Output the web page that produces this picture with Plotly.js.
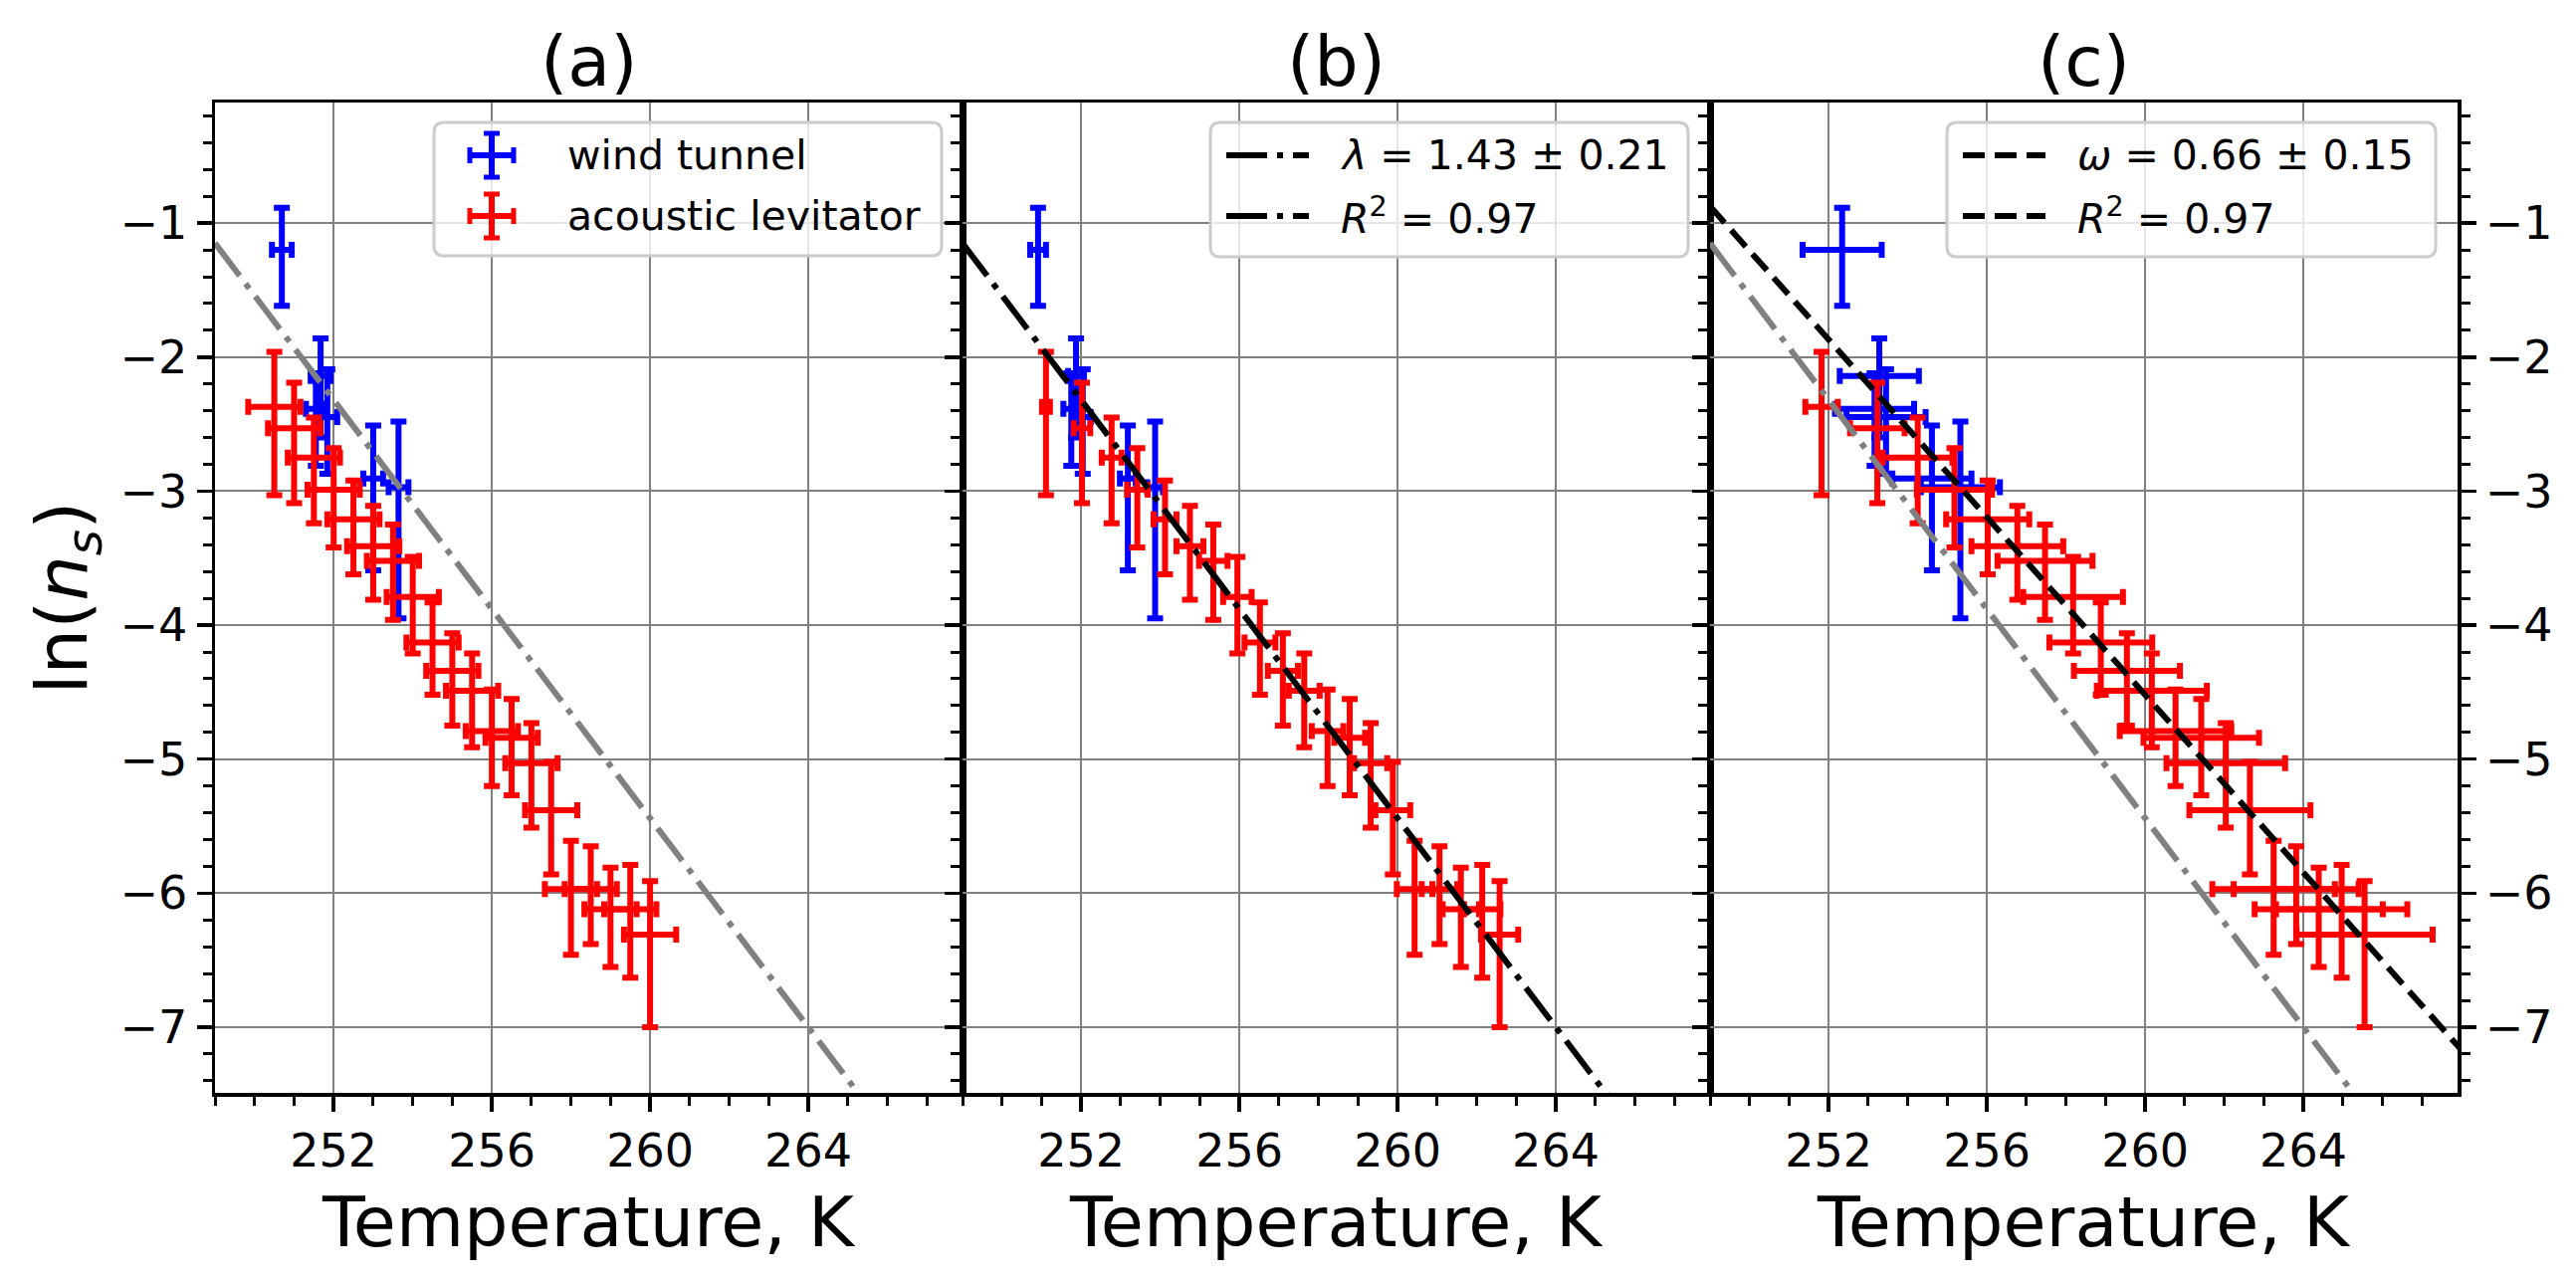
<!DOCTYPE html>
<html>
<head>
<meta charset="utf-8">
<script src="https://cdn.plot.ly/plotly-3.0.1.min.js"></script>
<style>
html, body { margin: 0; padding: 0; background: #fff; }
#chart { width: 2588px; height: 1288px; }
</style>
</head>
<body>
<div id="chart"></div>
<script>
// ---- wind tunnel (blue) ----
var windT_a = [250.69, 251.67, 251.55, 251.84, 253.00, 253.64];
var windT_b = [250.91, 251.87, 251.75, 252.04, 253.18, 253.87];
var windT_c = [252.34, 253.28, 253.16, 253.45, 254.61, 255.33];
var windTerr_a = [0.25, 0.25, 0.25, 0.25, 0.25, 0.25];
var windTerr_b = [0.2, 0.2, 0.2, 0.2, 0.2, 0.2];
var windTerr_c = [1.0, 1.0, 1.0, 1.0, 1.0, 1.0];
var windLn = [-1.20, -2.14, -2.385, -2.447, -2.905, -2.97];
var windLnTop = [-0.886, -1.86, -2.12, -2.09, -2.51, -2.48];
var windLnBottom = [-1.617, -2.60, -2.81, -2.87, -3.59, -3.95];

// ---- acoustic levitator (red) ----
var levT_a = [250.5, 251.0, 251.5, 252.0, 252.5, 253.0, 253.5, 254.0, 254.5, 255.0,
              255.5, 256.0, 256.5, 257.0, 257.5, 258.0, 258.5, 259.0, 259.5, 260.0];
var levT_b = [251.11, 252.02, 252.77, 253.42, 254.12, 254.75, 255.34, 255.95, 256.52, 257.10,
              257.64, 258.23, 258.79, 259.32, 259.88, 260.43, 261.06, 261.60, 262.14, 262.58];
var levT_c = [251.82, 253.23, 254.25, 255.18, 256.02, 256.77, 257.47, 258.18, 258.88, 259.54,
              260.17, 260.77, 261.42, 262.04, 262.65, 263.25, 263.82, 264.39, 264.97, 265.55];
var levTerr_a = [0.66, 0.66, 0.66, 0.66, 0.66, 0.66, 0.66, 0.66, 0.66, 0.66,
                 0.66, 0.66, 0.66, 0.66, 0.66, 0.66, 0.66, 0.66, 0.66, 0.66];
var levTerr_b = [0.10, 0.21, 0.25, 0.26, 0.29, 0.34, 0.36, 0.36, 0.39, 0.38,
                 0.39, 0.40, 0.39, 0.42, 0.44, 0.45, 0.45, 0.46, 0.46, 0.47];
var levTerr_c = [0.41, 0.69, 0.88, 0.95, 1.05, 1.16, 1.20, 1.26, 1.30, 1.34,
                 1.39, 1.41, 1.46, 1.50, 1.53, 1.55, 1.58, 1.62, 1.66, 1.72];
var levLn = [-2.37, -2.53, -2.75, -2.99, -3.21, -3.41, -3.52, -3.79, -4.13, -4.34,
             -4.49, -4.79, -4.84, -5.03, -5.38, -5.97, -5.97, -6.12, -6.12, -6.31];
var levLnTop = [-1.96, -2.19, -2.45, -2.68, -2.92, -3.11, -3.25, -3.49, -3.83, -4.06,
                -4.21, -4.48, -4.55, -4.73, -5.02, -5.61, -5.65, -5.81, -5.79, -5.91];
var levLnBottom = [-3.03, -3.09, -3.24, -3.42, -3.62, -3.81, -3.96, -4.21, -4.52, -4.75,
                   -4.91, -5.20, -5.27, -5.51, -5.86, -6.46, -6.38, -6.55, -6.63, -7.00];

// ---- fitted lines ----
var lambdaLineT = [249.0, 268.0];
var lambdaLineLn = [-1.15, -8.56];
var omegaLineT = [249.0, 268.0];
var omegaLineLn = [-0.875, -7.17];

var panelTitles = ['(a)', '(b)', '(c)'];
var legendA = ['wind tunnel', 'acoustic levitator'];
var legendB = ['<i>λ</i> = 1.43 ± 0.21', '<i>R</i><sup>2</sup> = 0.97'];
var legendC = ['<i>ω</i> = 0.66 ± 0.15', '<i>R</i><sup>2</sup> = 0.97'];

var FONT = 'DejaVu Sans';
var BLUE = '#0000ff', RED = '#ff0000', GRAY = '#808080';
var DASHDOT = '41px,10px,6px,10px';
var DASHED = '22px,10px';

// plot area in pixels
var L = 216, R = 2469, T = 103, B = 1098;
function px(x) { return (x - L) / (R - L); }
function py(y) { return (B - y) / (B - T); }

function errTrace(x, xerr, y, top, bottom, color, xa, ya) {
    return {
        x: x, y: y, type: 'scatter', mode: 'markers',
        xaxis: xa, yaxis: ya, showlegend: false, hoverinfo: 'skip',
        marker: {size: 0.001, color: color},
        error_x: {type: 'data', array: xerr, color: color, thickness: 6, width: 8},
        error_y: {type: 'data', symmetric: false,
                  array: top.map((t, i) => t - y[i]),
                  arrayminus: bottom.map((b, i) => y[i] - b),
                  color: color, thickness: 6, width: 8}
    };
}

function lineTrace(x, y, color, dash, xa, ya) {
    return {x: x, y: y, type: 'scatter', mode: 'lines', xaxis: xa, yaxis: ya,
            showlegend: false, hoverinfo: 'skip',
            line: {color: color, width: 6, dash: dash}};
}

var data = [
    errTrace(windT_a, windTerr_a, windLn, windLnTop, windLnBottom, BLUE, 'x', 'y'),
    errTrace(levT_a, levTerr_a, levLn, levLnTop, levLnBottom, RED, 'x', 'y'),
    lineTrace(lambdaLineT, lambdaLineLn, GRAY, DASHDOT, 'x', 'y'),

    errTrace(windT_b, windTerr_b, windLn, windLnTop, windLnBottom, BLUE, 'x2', 'y2'),
    errTrace(levT_b, levTerr_b, levLn, levLnTop, levLnBottom, RED, 'x2', 'y2'),
    lineTrace(lambdaLineT, lambdaLineLn, 'black', DASHDOT, 'x2', 'y2'),

    errTrace(windT_c, windTerr_c, windLn, windLnTop, windLnBottom, BLUE, 'x3', 'y3'),
    errTrace(levT_c, levTerr_c, levLn, levLnTop, levLnBottom, RED, 'x3', 'y3'),
    lineTrace(lambdaLineT, lambdaLineLn, GRAY, DASHDOT, 'x3', 'y3'),
    lineTrace(omegaLineT, omegaLineLn, 'black', DASHED, 'x3', 'y3')
];

function xAxis(domain, anchor) {
    return {
        domain: domain, anchor: anchor, range: [249.0, 267.9],
        tick0: 0, dtick: 4, ticks: 'outside', ticklen: 15, tickwidth: 3.5, tickcolor: 'black',
        showline: true, linecolor: 'black', linewidth: 3.5, mirror: true,
        showgrid: true, gridcolor: GRAY, gridwidth: 2, zeroline: false,
        tickfont: {family: FONT, size: 46, color: 'black'},
        minor: {dtick: 1, ticks: 'outside', ticklen: 9, tickwidth: 3, tickcolor: 'black', showgrid: false}
    };
}

function yAxis(anchor, side, labels, mirror) {
    return {
        anchor: anchor, side: side, range: [-7.49, -0.10],
        tick0: 0, dtick: 1, ticks: 'outside', ticklen: 15, tickwidth: 3.5, tickcolor: 'black',
        showticklabels: labels,
        showline: true, linecolor: 'black', linewidth: 3.5, mirror: mirror,
        showgrid: true, gridcolor: GRAY, gridwidth: 2, zeroline: false,
        tickfont: {family: FONT, size: 46, color: 'black'},
        minor: {dtick: 0.2, ticks: 'outside', ticklen: 9, tickwidth: 3, tickcolor: 'black', showgrid: false}
    };
}

// ---- legends, drawn in pixel units of the figure ----
function roundBox(x0, y0, x1, y1, r) {
    function p(x, y) { return px(x) + ',' + py(y); }
    return 'M' + p(x0 + r, y0) + ' L' + p(x1 - r, y0) + ' Q' + p(x1, y0) + ' ' + p(x1, y0 + r) +
           ' L' + p(x1, y1 - r) + ' Q' + p(x1, y1) + ' ' + p(x1 - r, y1) +
           ' L' + p(x0 + r, y1) + ' Q' + p(x0, y1) + ' ' + p(x0, y1 - r) +
           ' L' + p(x0, y0 + r) + ' Q' + p(x0, y0) + ' ' + p(x0 + r, y0) + ' Z';
}

var shapes = [];
var annotations = [];

function seg(x0, y0, x1, y1, color, width, dash) {
    shapes.push({type: 'line', xref: 'paper', yref: 'paper',
                 x0: px(x0), y0: py(y0), x1: px(x1), y1: py(y1),
                 line: {color: color, width: width, dash: dash || 'solid'}});
}

function legendFrame(x0, y0, x1, y1) {
    shapes.push({type: 'path', xref: 'paper', yref: 'paper', path: roundBox(x0, y0, x1, y1, 10),
                 fillcolor: 'rgba(255,255,255,0.8)', line: {color: '#cccccc', width: 3}});
}

function legendText(x, y, text) {
    annotations.push({xref: 'paper', yref: 'paper', x: px(x), y: py(y), text: text,
                      xanchor: 'left', yanchor: 'middle', showarrow: false,
                      font: {family: FONT, size: 41, color: 'black'}});
}

function errIcon(cx, cy, color) {
    seg(cx, cy - 22, cx, cy + 22, color, 6);
    seg(cx - 22, cy, cx + 22, cy, color, 6);
    seg(cx - 8, cy - 22, cx + 8, cy - 22, color, 5);
    seg(cx - 8, cy + 22, cx + 8, cy + 22, color, 5);
    seg(cx - 22, cy - 8, cx - 22, cy + 8, color, 5);
    seg(cx + 22, cy - 8, cx + 22, cy + 8, color, 5);
}

var rowY = [156, 217];

legendFrame(436, 123, 946, 257);
errIcon(494, rowY[0], BLUE);
errIcon(494, rowY[1], RED);
legendText(568, rowY[0], legendA[0]);
legendText(568, rowY[1], legendA[1]);

legendFrame(1216, 123, 1696, 258);
legendFrame(1956, 123, 2447, 258);
for (var i = 0; i < 2; i++) {
    seg(1232, rowY[i], 1315, rowY[i], 'black', 6, DASHDOT);
    legendText(1345, rowY[i], legendB[i]);
    seg(1972, rowY[i], 2055, rowY[i], 'black', 6, DASHED);
    legendText(2085, rowY[i], legendC[i]);
}

// ---- titles and axis labels ----
var third = (R - L) / 3;
for (var k = 0; k < 3; k++) {
    var cx = L + third * (k + 0.5);
    annotations.push({xref: 'paper', yref: 'paper', x: px(cx), y: py(62), text: panelTitles[k],
                      xanchor: 'center', yanchor: 'middle', showarrow: false,
                      font: {family: FONT, size: 70, color: 'black'}});
    annotations.push({xref: 'paper', yref: 'paper', x: px(cx), y: py(1228), text: 'Temperature, K',
                      xanchor: 'center', yanchor: 'middle', showarrow: false,
                      font: {family: FONT, size: 70, color: 'black'}});
}
annotations.push({xref: 'paper', yref: 'paper', x: px(66), y: 0.5,
                  text: 'ln(<i>n</i><sub><i>s</i></sub>)', textangle: -90,
                  xanchor: 'center', yanchor: 'middle', showarrow: false,
                  font: {family: FONT, size: 72, color: 'black'}});

var layout = {
    width: 2588, height: 1288,
    margin: {l: L, r: 2588 - R, t: T, b: 1288 - B, pad: 0},
    paper_bgcolor: 'white', plot_bgcolor: 'white',
    font: {family: FONT, color: 'black'},
    showlegend: false,
    xaxis: xAxis([0, 1 / 3], 'y'),
    xaxis2: xAxis([1 / 3, 2 / 3], 'y2'),
    xaxis3: xAxis([2 / 3, 1], 'y3'),
    yaxis: yAxis('x', 'left', true, true),
    yaxis2: yAxis('x2', 'left', false, true),
    yaxis3: yAxis('x3', 'right', true, 'ticks'),
    shapes: shapes,
    annotations: annotations
};

Plotly.newPlot('chart', data, layout, {displayModeBar: false, staticPlot: true});
</script>
</body>
</html>
